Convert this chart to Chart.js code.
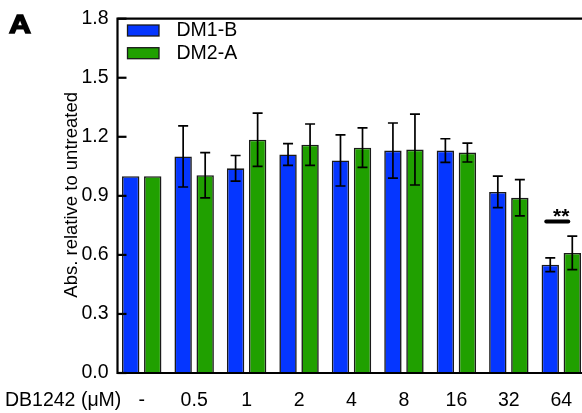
<!DOCTYPE html>
<html><head><meta charset="utf-8">
<style>html,body{margin:0;padding:0;background:#fff;overflow:hidden;}#wrap{width:590px;height:413px;}</style>
<script src="https://cdn.jsdelivr.net/npm/chart.js@4.4.1/dist/chart.umd.min.js"></script>
</head><body><div id="wrap"><canvas id="c" width="590" height="413"></canvas></div>
<script>
const categories = ['-', '0.5', '1', '2', '4', '8', '16', '32', '64'];
const seriesNames = ['DM1-B', 'DM2-A'];
const dm1b = [1.00, 1.10, 1.04, 1.11, 1.08, 1.13, 1.13, 0.92, 0.55];
const dm1bErr = [0, 0.155, 0.065, 0.055, 0.13, 0.14, 0.06, 0.08, 0.035];
const dm2a = [1.00, 1.005, 1.185, 1.16, 1.145, 1.135, 1.12, 0.89, 0.61];
const dm2aErr = [0, 0.115, 0.135, 0.105, 0.10, 0.18, 0.048, 0.092, 0.085];
const yTicks = [0, 0.3, 0.6, 0.9, 1.2, 1.5, 1.8];
const significance = [{index: 8, y: 0.77, label: '**'}];
const xTitle = 'DB1242 (\u03bcM)';
const yTitle = 'Abs. relative to untreated';
const panelLabel = 'A';

const FAM = '"Liberation Sans", Arial, Helvetica, sans-serif';
const FS = 19.5;
const colors = ['#0536ff', '#20a000'];
const errs = [dm1bErr, dm2aErr];

const custom = {
  id: 'custom',
  afterDatasetsDraw(chart) {
    const ctx = chart.ctx, ys = chart.scales.y, ca = chart.chartArea;
    ctx.save();
    // error bars
    ctx.strokeStyle = '#000'; ctx.lineWidth = 1.7;
    chart.data.datasets.forEach((ds, di) => {
      const meta = chart.getDatasetMeta(di);
      meta.data.forEach((bar, i) => {
        const e = errs[di][i]; if (!e) return;
        const v = ds.data[i];
        const x = bar.x, y1 = ys.getPixelForValue(v + e), y2 = ys.getPixelForValue(v - e);
        ctx.beginPath();
        ctx.moveTo(x, y1); ctx.lineTo(x, y2);
        ctx.moveTo(x - 5, y1); ctx.lineTo(x + 5, y1);
        ctx.moveTo(x - 5, y2); ctx.lineTo(x + 5, y2);
        ctx.stroke();
      });
    });
    // axes
    const ax = ca.left + 2;
    const topY = ys.getPixelForValue(yTicks[yTicks.length - 1]);
    const botY = ys.getPixelForValue(0);
    ctx.lineWidth = 2.2; ctx.strokeStyle = '#000';
    ctx.beginPath();
    ctx.moveTo(ax, topY - 1); ctx.lineTo(ax, botY + 1);
    ctx.moveTo(ax - 1, topY); ctx.lineTo(chart.width, topY);
    ctx.moveTo(ax - 1, botY); ctx.lineTo(chart.width, botY);
    ctx.stroke();
    // inward ticks
    ctx.lineWidth = 2.2;
    yTicks.forEach(v => {
      const py = ys.getPixelForValue(v);
      ctx.beginPath(); ctx.moveTo(ax, py); ctx.lineTo(ax + 9, py); ctx.stroke();
    });
    // significance
    significance.forEach(s => {
      const b1 = chart.getDatasetMeta(0).data[s.index];
      const b2 = chart.getDatasetMeta(1).data[s.index];
      const cx = (b1.x + b2.x) / 2;
      const py = ys.getPixelForValue(s.y);
      ctx.lineWidth = 4; ctx.lineCap = 'round';
      ctx.beginPath(); ctx.moveTo(cx - 15, py); ctx.lineTo(cx + 7, py); ctx.stroke();
      ctx.lineCap = 'butt';
      ctx.fillStyle = '#000';
      ctx.font = 'bold 21px ' + FAM;
      ctx.textAlign = 'center'; ctx.textBaseline = 'alphabetic';
      ctx.fillText(s.label, cx, py + 2);
    });
    // legend
    ctx.font = FS + 'px ' + FAM;
    ctx.textAlign = 'left'; ctx.textBaseline = 'middle';
    chart.data.datasets.forEach((ds, di) => {
      const by = 25 + di * 22.7;
      ctx.fillStyle = ds.backgroundColor;
      ctx.fillRect(127.5, by, 31.5, 11);
      ctx.lineWidth = 1.3; ctx.strokeStyle = '#1a1a1a';
      ctx.strokeRect(127.5, by, 31.5, 11);
      ctx.fillStyle = '#000';
      ctx.fillText(ds.label, 176.5, by + 6);
    });
    // titles
    ctx.fillStyle = '#000';
    ctx.font = FS + 'px ' + FAM;
    ctx.textAlign = 'left'; ctx.textBaseline = 'middle';
    ctx.fillText(xTitle, 5, 400.5);
    ctx.save();
    ctx.translate(72, (topY + botY) / 2 - 1);
    ctx.rotate(-Math.PI / 2);
    ctx.font = '18.5px ' + FAM;
    ctx.textAlign = 'center'; ctx.textBaseline = 'middle';
    ctx.fillText(yTitle, 0, 0);
    ctx.restore();
    ctx.save();
    ctx.translate(9, 32.5);
    ctx.scale(1.22, 1);
    ctx.font = 'bold 25px ' + FAM;
    ctx.textAlign = 'left'; ctx.textBaseline = 'alphabetic';
    ctx.lineWidth = 1.4; ctx.strokeStyle = '#000';
    ctx.strokeText(panelLabel, 0, 0);
    ctx.fillText(panelLabel, 0, 0);
    ctx.restore();
    ctx.restore();
  }
};

new Chart(document.getElementById('c'), {
  type: 'bar',
  data: {
    labels: categories,
    datasets: [
      {label: seriesNames[0], data: dm1b, backgroundColor: colors[0], borderColor: '#1a1a1a', borderWidth: 1.6, categoryPercentage: 0.84, barPercentage: 0.79},
      {label: seriesNames[1], data: dm2a, backgroundColor: colors[1], borderColor: '#1a1a1a', borderWidth: 1.6, categoryPercentage: 0.84, barPercentage: 0.79}
    ]
  },
  options: {
    responsive: false, animation: false, devicePixelRatio: 1,
    layout: {padding: {top: 14.3, right: 2.5, left: 0, bottom: 0}},
    plugins: {legend: {display: false}, tooltip: {enabled: false}},
    scales: {
      x: {
        grid: {display: false, drawTicks: false}, border: {display: false},
        ticks: {font: {size: FS, family: FAM}, color: '#000', padding: 16, maxRotation: 0, autoSkip: false},
        afterFit(s) { s.height = 40; }
      },
      y: {
        min: 0, max: 1.8,
        grid: {display: false, drawTicks: false}, border: {display: false},
        ticks: {font: {size: FS, family: FAM}, color: '#000', padding: 7, callback: v => Number(v).toFixed(1)},
        afterBuildTicks(s) { s.ticks = yTicks.map(v => ({value: v})); },
        afterFit(s) { s.width = 115.5; }
      }
    }
  },
  plugins: [custom]
});
</script></body></html>
